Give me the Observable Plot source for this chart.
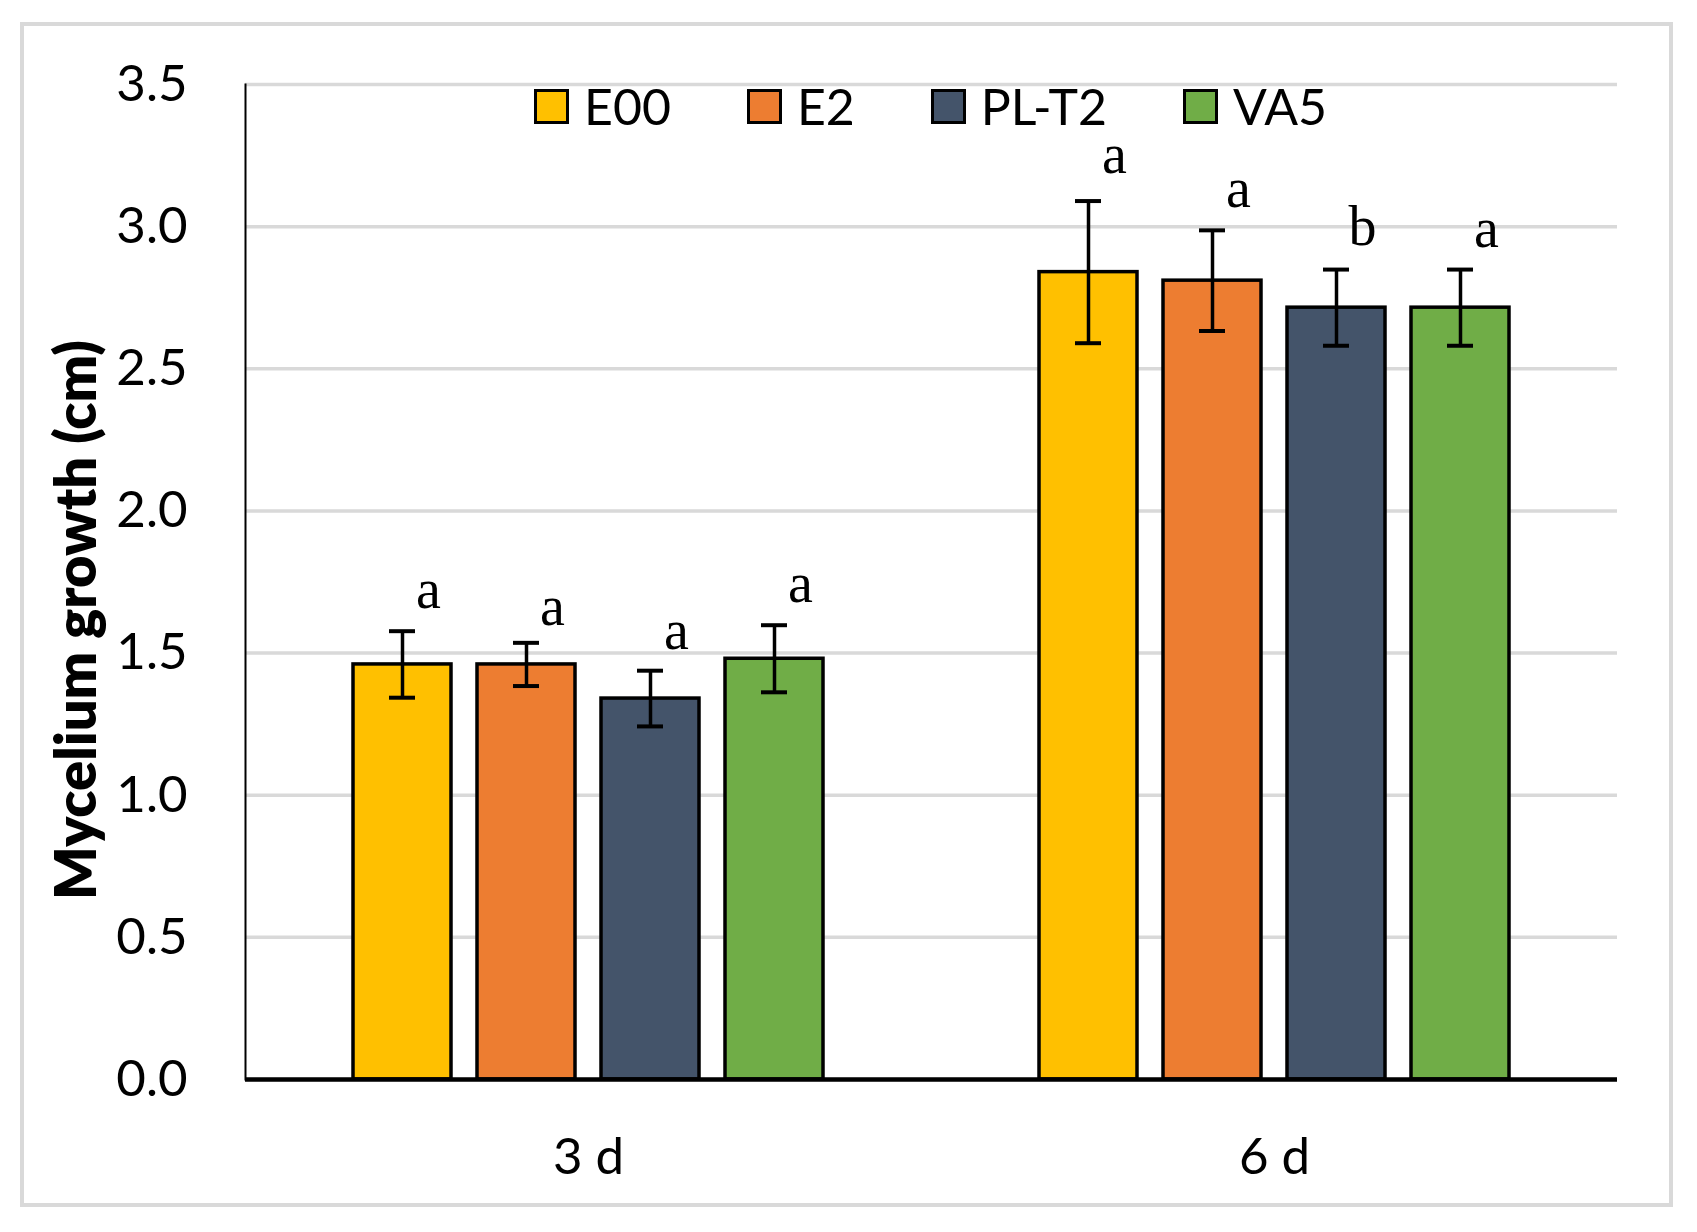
<!DOCTYPE html>
<html>
<head>
<meta charset="utf-8">
<script src="https://cdn.jsdelivr.net/npm/d3@7"></script>
<script src="https://cdn.jsdelivr.net/npm/@observablehq/plot@0.6"></script>
<style>
  html, body { margin: 0; padding: 0; background: #fff; }
  #wrap { position: relative; width: 1697px; height: 1232px; overflow: hidden; font-family: Lato, sans-serif; color: #000; }
  #border { position: absolute; left: 20px; top: 22px; width: 1645px; height: 1177px; border: 4px solid #d9d9d9; }
  #chart { position: absolute; left: 0; top: 0; }
  #legend { position: absolute; left: 534px; top: 81px; height: 50px; display: flex; align-items: center; gap: 76px; font-size: 50px; }
  .item { display: flex; align-items: center; gap: 15px; }
  .sw { width: 35px; height: 35px; box-sizing: border-box; border: 3.5px solid #000; }
  #ytitle { position: absolute; left: -225px; top: 590px; width: 600px; height: 60px; line-height: 60px; text-align: center;
            font-weight: 800; font-size: 56px; transform: rotate(-90deg); transform-origin: 300px 30px; }
</style>
</head>
<body>
<div id="wrap">
  <div id="border"></div>
  <div id="chart"></div>
  <div id="legend"></div>
  <div id="ytitle">Mycelium growth (cm)</div>
</div>
<script>
// ---- data ----
const groups = ["3 d", "6 d"];
const series = ["E00", "E2", "PL-T2", "VA5"];
const colors = ["#FFC000", "#ED7D31", "#44546A", "#70AD47"];
const means3 = [1.46, 1.46, 1.34, 1.48];
const errs3 = [0.117, 0.076, 0.098, 0.118];
const letters3 = ["a", "a", "a", "a"];
const letterY3 = [1.66, 1.60, 1.515, 1.68];
const means6 = [2.84, 2.81, 2.715, 2.715];
const errs6 = [0.25, 0.177, 0.134, 0.134];
const letters6 = ["a", "a", "b", "a"];
const letterY6 = [3.19, 3.07, 2.935, 2.93];
const yTicks = [0, 0.5, 1.0, 1.5, 2.0, 2.5, 3.0, 3.5];

const rows = [];
series.forEach((s, i) => {
  rows.push({group: groups[0], series: s, mean: means3[i], err: errs3[i], letter: letters3[i], ly: letterY3[i]});
  rows.push({group: groups[1], series: s, mean: means6[i], err: errs6[i], letter: letters6[i], ly: letterY6[i]});
});

const chart = Plot.plot({
  width: 1697,
  height: 1232,
  marginLeft: 245,
  marginRight: 80,
  marginTop: 84,
  marginBottom: 153,
  style: {fontFamily: "Lato, sans-serif", background: "transparent", color: "#000"},
  fx: {domain: groups, padding: 0, label: null},
  x: {domain: series, paddingInner: 0.21, paddingOuter: 0.86, axis: null},
  y: {domain: [0, 3.5], axis: null},
  color: {domain: series, range: colors},
  marks: [
    Plot.gridY(yTicks, {stroke: "#d9d9d9", strokeOpacity: 1, strokeWidth: 3.5}),
    Plot.axisY(yTicks, {tickSize: 0, tickPadding: 58, tickFormat: d3.format(".1f"), fontSize: 51, label: null}),
    Plot.axisFx({anchor: "bottom", tickSize: 0, tickPadding: 58, fontSize: 51, label: null}),
    Plot.barY(rows, {fx: "group", x: "series", y: "mean", fill: "series", stroke: "#000", strokeWidth: 3.5}),
    Plot.ruleX(rows, {fx: "group", x: "series", y1: d => d.mean - d.err, y2: d => d.mean + d.err, stroke: "#000", strokeWidth: 3.5}),
    Plot.tickY(rows, {fx: "group", x: "series", y: d => d.mean - d.err, insetLeft: 36, insetRight: 36, stroke: "#000", strokeWidth: 4}),
    Plot.tickY(rows, {fx: "group", x: "series", y: d => d.mean + d.err, insetLeft: 36, insetRight: 36, stroke: "#000", strokeWidth: 4}),
    Plot.text(rows, {fx: "group", x: "series", y: "ly", text: "letter", dx: 26, lineAnchor: "bottom", fontSize: 56, fontFamily: "'Liberation Serif', serif", fill: "#000"}),
    Plot.ruleY([0], {stroke: "#000", strokeWidth: 4.5}),
    Plot.frame({anchor: "left", stroke: "#000", strokeWidth: 2, facetAnchor: "left"})
  ]
});
document.getElementById("chart").appendChild(chart);

// legend
const legend = document.getElementById("legend");
series.forEach((s, i) => {
  const item = document.createElement("div");
  item.className = "item";
  const sw = document.createElement("div");
  sw.className = "sw";
  sw.style.background = colors[i];
  const t = document.createElement("span");
  t.textContent = s;
  item.appendChild(sw);
  item.appendChild(t);
  legend.appendChild(item);
});
</script>
</body>
</html>
